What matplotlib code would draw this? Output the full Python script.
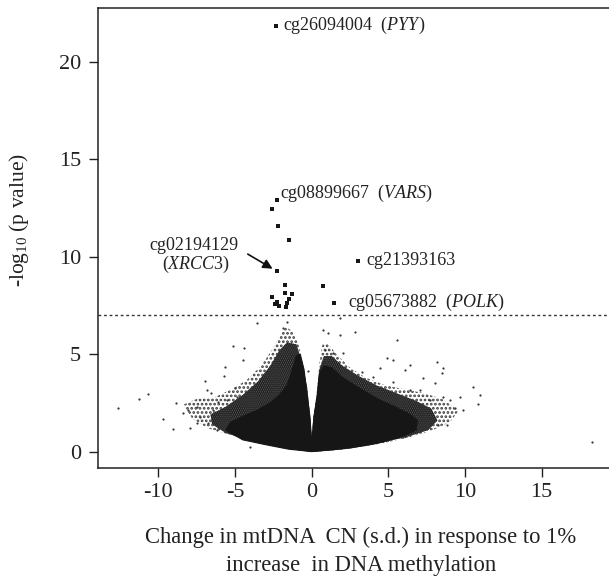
import numpy as np
import matplotlib
matplotlib.use("Agg")
import matplotlib.pyplot as plt
from matplotlib.patches import Polygon

plt.rcParams["font.family"] = ["Liberation Serif", "DejaVu Serif"]
plt.rcParams["mathtext.fontset"] = "custom"
plt.rcParams["mathtext.rm"] = "Liberation Serif"
plt.rcParams["mathtext.it"] = "Liberation Serif:italic"
plt.rcParams["hatch.linewidth"] = 1.3

# significant CpG sites (-log10 p > 7)
hit_x = [-2.33, -2.28, -2.59, -2.20, -1.46, 3.02, -2.24, -1.72, 0.76, 1.48,
         -2.59, -1.76, -1.28, -2.24, -2.15, -1.59, -1.50, -1.68, -2.37]
hit_y = [21.85, 12.90, 12.44, 11.59, 10.85, 9.79, 9.28, 8.56, 8.51, 7.64,
         7.91, 8.15, 8.06, 7.69, 7.47, 7.64, 7.81, 7.43, 7.56]

# solid core of the cloud (outline)
core_x = [0, -1.5, -3.0, -4.5, -5.6, -5.3, -4.5, -3.6, -2.7, -2.1, -1.6, -1.3,
          -1.0, -0.75, -0.5, -0.3, -0.12, -0.03, 0, 0.05, 0.15, 0.35, 0.5, 0.8,
          1.3, 2.0, 3.2, 4.3, 5.4, 6.3, 6.9, 6.8, 6.0, 4.3, 3.0, 1.5]
core_y = [0.0, 0.12, 0.35, 0.6, 1.1, 1.5, 1.8, 2.1, 2.5, 2.9, 3.4, 4.1,
          4.9, 5.0, 4.2, 2.9, 1.8, 0.8, 0.7, 0.8, 1.8, 2.8, 4.0, 4.4,
          4.3, 3.8, 3.2, 2.7, 2.3, 1.95, 1.6, 1.1, 0.8, 0.42, 0.25, 0.1]

# dense speckle around the core
mid_x = [0, -2, -4, -5.6, -6.5, -6.6, -5.6, -4.5, -3.5, -2.7, -2.1, -1.6, -1.0,
         -0.6, -0.3, -0.1, 0, 0.1, 0.35, 0.5, 0.8, 1.3, 2.0, 3.0, 4.2, 5.5, 6.8,
         7.8, 8.2, 7.6, 6.2, 4.5, 2.5]
mid_y = [-0.03, 0.2, 0.55, 0.95, 1.4, 1.9, 2.3, 2.9, 3.6, 4.4, 5.2, 5.6, 5.5,
         4.5, 3.3, 1.8, 0.65, 1.7, 3.0, 4.2, 4.9, 4.9, 4.4, 3.9, 3.4, 3.0, 2.6,
         2.2, 1.6, 1.1, 0.75, 0.45, 0.15]

# sparse speckle at the edge of the cloud
fringe_x = [0, -2, -3.8, -5.5, -6.8, -7.8, -8.4, -7.5, -6.3, -5.2, -4.2, -3.3,
            -2.6, -2.1, -1.7, -1.3, -0.9, -0.6, -0.35, -0.12, 0, 0.1, 0.35, 0.5,
            0.7, 1.0, 1.6, 2.5, 3.5, 4.8, 6.0, 7.3, 8.5, 9.6, 9.0, 7.9, 6.2, 4.5, 2.5]
fringe_y = [-0.05, 0.2, 0.5, 0.9, 1.2, 1.7, 2.4, 2.7, 2.8, 3.2, 3.7, 4.4,
            5.2, 5.9, 6.4, 6.2, 5.6, 4.6, 3.4, 1.8, 0.7, 1.6, 3.2, 4.5,
            5.5, 5.6, 5.0, 4.3, 3.8, 3.4, 3.2, 3.0, 2.7, 2.1, 1.5, 1.1, 0.7, 0.4, 0.15]

# scattered single sites outside the cloud
dot_x = [-12.62, -11.25, -10.66, -9.72, -9.06, -8.85, -7.94, -6.96, -5.66, -5.15,
         -4.42, -4.46, -5.70, -5.0, -6.85, -6.59, -3.59, -1.85, -1.63, -0.22,
         -4.02, -7.5, -8.05, -7.29, -6.74, -6.2, -5.75, -5.53, -4.89, -6.09,
         -6.41, -7.5, -8.38,
         1.85, 0.76, 1.08, 1.85, 2.82, 5.59, 0.87, 1.41, 2.06, 4.89, 5.33, 6.41,
         8.15, 8.58, 8.48, 6.09, 4.46, 3.26, 7.28, 8.04, 10.5, 10.98, 9.67, 10.87,
         9.89, 9.35, 8.81, 8.26, 9.02, 8.58, 7.5, 6.41, 5.98, 7.72, 7.06, 6.41,
         5.33, 4.02, 3.37, 18.3]
dot_y = [2.25, 2.68, 2.95, 1.67, 1.14, 2.47, 1.19, 3.62, 4.35, 5.43,
         5.29, 4.69, 3.89, 3.24, 3.16, 2.99, 6.58, 6.32, 6.66, 4.15,
         0.25, 2.3, 2.13, 1.79, 1.45, 1.1, 1.62, 2.64, 2.81, 2.56,
         2.13, 1.45, 1.96,
         6.83, 6.23, 6.06, 5.98, 6.11, 5.72, 5.21, 5.04, 5.04, 4.78, 4.69, 4.44,
         4.61, 4.27, 4.04, 4.18, 4.27, 4.1, 3.76, 3.5, 3.29, 2.9, 2.81, 2.44,
         2.13, 2.22, 1.36, 1.36, 2.64, 2.81, 1.27, 0.85, 0.76, 2.64, 3.16, 3.16,
         3.58, 3.84, 3.67, 0.47]

threshold = 7.0
xticks = [-10, -5, 0, 5, 10, 15]
yticks = [0, 5, 10, 15, 20]

fig = plt.figure(figsize=(6.09, 5.78), dpi=100)
ax = fig.add_axes([0.1614, 0.1898, 0.8386, 0.7958])

ink = "#161616"
ax.add_patch(Polygon(np.column_stack([fringe_x, fringe_y]), closed=True,
                     facecolor="none", edgecolor="#3a3a3a", hatch="....", lw=0))
ax.add_patch(Polygon(np.column_stack([mid_x, mid_y]), closed=True,
                     facecolor="#5a5a5a", edgecolor=ink, hatch="........", lw=0))
ax.add_patch(Polygon(np.column_stack([core_x, core_y]), closed=True,
                     facecolor=ink, edgecolor=ink, lw=0.8))
ax.scatter(dot_x, dot_y, s=2.5, color="#333333", marker="o", lw=0)
ax.scatter(hit_x, hit_y, s=7, color=ink, marker="s", lw=0)

ax.axhline(threshold, color="#333333", lw=1.0, dashes=(2, 2))

txt = dict(fontsize=13, color="#222222", va="center")
ax.text(-1.9, 21.85, r"cg26094004  ($\it{PYY}$)", **txt)
ax.text(-2.1, 13.25, r"cg08899667  ($\it{VARS}$)", **txt)
ax.text(3.55, 9.79, "cg21393163", **txt)
ax.text(2.35, 7.64, r"cg05673882  ($\it{POLK}$)", **txt)
ax.text(-7.7, 10.55, "cg02194129", ha="center", **txt)
ax.text(-7.55, 9.6, r"($\it{XRCC3}$)", ha="center", **txt)
ax.annotate("", xy=(-2.55, 9.38), xytext=(-4.17, 10.13),
            arrowprops=dict(arrowstyle="-|>", color="#111111", lw=1.2,
                            mutation_scale=14, shrinkA=0, shrinkB=0))

ax.set_xlim(-13.92, 19.39)
ax.set_ylim(-0.86, 22.74)
ax.set_xticks(xticks)
ax.set_yticks(yticks)
ax.set_xticklabels([str(v) for v in xticks])
ax.tick_params(axis="both", direction="out", length=6.5, width=1,
               labelsize=16, colors="#222222")
ax.tick_params(axis="y", pad=6)
ax.tick_params(axis="x", pad=4)
for side in ["left", "bottom", "top"]:
    ax.spines[side].set_linewidth(1.1)
    ax.spines[side].set_color("#222222")
ax.spines["right"].set_visible(False)

fig.text(19.5 / 609, 1 - 220 / 578, r"-log$_{10}$ (p value)", rotation=90,
         ha="center", va="center", fontsize=15.5, color="#222222")
fig.text(361 / 609, 1 - 537 / 578, "Change in mtDNA  CN (s.d.) in response to 1%",
         ha="center", va="center", fontsize=16.3, color="#222222")
fig.text(361 / 609, 1 - 565 / 578, "increase  in DNA methylation",
         ha="center", va="center", fontsize=16.3, color="#222222")

fig.savefig("out.png", dpi=100, facecolor="white")
